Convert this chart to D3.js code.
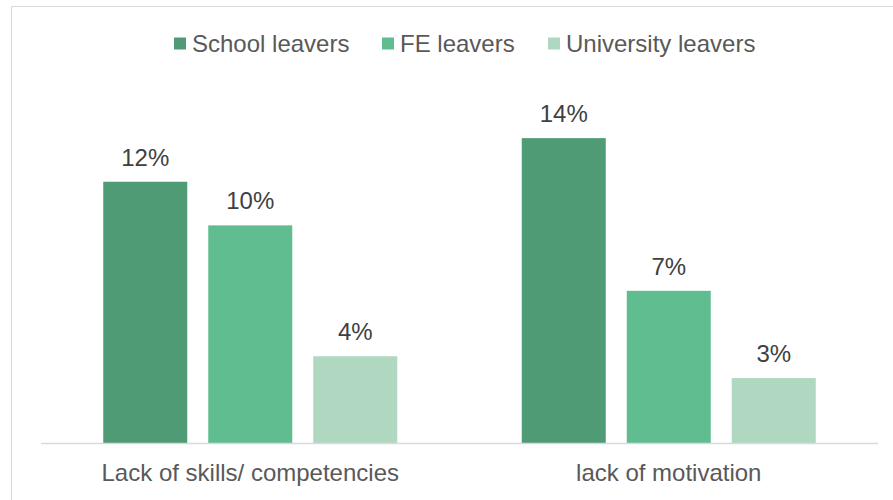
<!DOCTYPE html>
<html>
<head>
<meta charset="utf-8">
<script src="https://cdn.jsdelivr.net/npm/d3@7"></script>
<style>
  html, body { margin: 0; padding: 0; background: #fff; }
  svg { display: block; font-family: "Liberation Sans", Arial, sans-serif; }
</style>
</head>
<body>
<svg id="chart" width="893" height="500"></svg>
<script>
// Reasons given, grouped by leaver type
const categories = ["Lack of skills/ competencies", "lack of motivation"];
const seriesNames = ["School leavers", "FE leavers", "University leavers"];
const schoolLeavers = [12, 14];
const feLeavers = [10, 7];
const universityLeavers = [4, 3];
const seriesColors = ["#4F9B75", "#60BD90", "#B0D8C1"];

const seriesValues = [schoolLeavers, feLeavers, universityLeavers];
const rows = categories.map((c, i) => ({
  category: c,
  values: seriesNames.map((s, j) => ({ series: s, value: seriesValues[j][i] }))
}));

const svg = d3.select("#chart");
const W = 893, H = 500;
const fontSize = 24;

// Chart frame
svg.append("rect")
  .attr("x", 11.5).attr("y", 6.5)
  .attr("width", W + 10).attr("height", H + 10)
  .attr("fill", "none").attr("stroke", "#D9D9D9").attr("stroke-width", 1);

const plot = { left: 41, right: 878, top: 94.5, bottom: 443.5 };

const x0 = d3.scaleBand()
  .domain(categories)
  .range([plot.left, plot.right])
  .padding(0);

const groupInner = 294;
const x1 = d3.scaleBand()
  .domain(seriesNames)
  .range([0, groupInner])
  .paddingInner(0.2)
  .paddingOuter(0);

const y = d3.scaleLinear()
  .domain([0, 16])
  .range([plot.bottom, plot.top]);

const color = d3.scaleOrdinal().domain(seriesNames).range(seriesColors);

const groups = svg.append("g")
  .selectAll("g")
  .data(rows)
  .join("g")
  .attr("transform", d => `translate(${x0(d.category) + (x0.bandwidth() - groupInner) / 2},0)`);

groups.selectAll("rect")
  .data(d => d.values)
  .join("rect")
  .attr("x", d => x1(d.series))
  .attr("y", d => y(d.value))
  .attr("width", x1.bandwidth())
  .attr("height", d => y(0) - y(d.value))
  .attr("fill", d => color(d.series));

groups.selectAll("text.value")
  .data(d => d.values)
  .join("text")
  .attr("class", "value")
  .attr("x", d => x1(d.series) + x1.bandwidth() / 2)
  .attr("y", d => y(d.value) - 16)
  .attr("text-anchor", "middle")
  .attr("font-size", fontSize)
  .attr("fill", "#404040")
  .text(d => d.value + "%");

// Baseline
svg.append("line")
  .attr("x1", plot.left).attr("x2", plot.right)
  .attr("y1", plot.bottom).attr("y2", plot.bottom)
  .attr("stroke", "#D9D9D9").attr("stroke-width", 1.5);

// Category axis labels
const xAxis = d3.axisBottom(x0).tickSize(0).tickPadding(0);
const axisG = svg.append("g")
  .attr("transform", `translate(0,${plot.bottom})`)
  .call(xAxis);
axisG.select(".domain").remove();
axisG.selectAll("text")
  .attr("dy", null)
  .attr("y", 37.5)
  .attr("font-size", fontSize)
  .attr("font-family", "Liberation Sans, Arial, sans-serif")
  .attr("fill", "#595959");

// Legend
const legendX = [174, 382, 548];
const legend = svg.append("g")
  .selectAll("g")
  .data(seriesNames)
  .join("g")
  .attr("transform", (d, i) => `translate(${legendX[i]},0)`);
legend.append("rect")
  .attr("x", 0).attr("y", 37.5)
  .attr("width", 12).attr("height", 12)
  .attr("fill", d => color(d));
legend.append("text")
  .attr("x", 18).attr("y", 52)
  .attr("font-size", fontSize)
  .attr("fill", "#595959")
  .text(d => d);
</script>
</body>
</html>
